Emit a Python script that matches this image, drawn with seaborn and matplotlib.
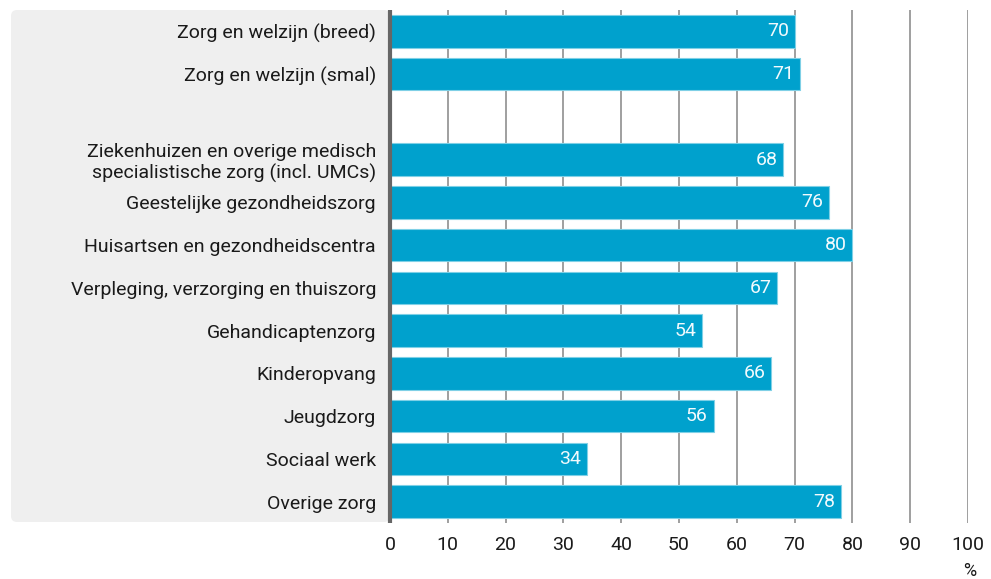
import matplotlib
matplotlib.use("Agg")
import matplotlib.pyplot as plt
from matplotlib.patches import FancyBboxPatch
import seaborn as sns
import pandas as pd

# data
CATEGORIES = [
    "Zorg en welzijn (breed)",
    "Zorg en welzijn (smal)",
    "Ziekenhuizen en overige medisch\nspecialistische zorg (incl. UMCs)",
    "Geestelijke gezondheidszorg",
    "Huisartsen en gezondheidscentra",
    "Verpleging, verzorging en thuiszorg",
    "Gehandicaptenzorg",
    "Kinderopvang",
    "Jeugdzorg",
    "Sociaal werk",
    "Overige zorg",
]
VALUES = [70, 71, 68, 76, 80, 67, 54, 66, 56, 34, 78]
# empty slot between the two totals and the sectors
ORDER = CATEGORIES[:2] + [" "] + CATEGORIES[2:]
X_TICKS = [0, 10, 20, 30, 40, 50, 60, 70, 80, 90, 100]

BAR_COLOR = "#00A1CD"
PANEL_COLOR = "#EFEFEF"
TEXT_COLOR = "#1a1a1a"
FS = 14

sns.set_style("white")
plt.rcParams["font.family"] = ["Roboto", "DejaVu Sans"]
plt.rcParams["font.size"] = FS

W, H, DPI = 991, 579, 100
fig = plt.figure(figsize=(W / DPI, H / DPI), dpi=DPI)

# grey label panel behind the category names
panel = FancyBboxPatch((11 / DPI, 57 / DPI), (390 - 11) / DPI, (569 - 57) / DPI,
                       boxstyle="round,pad=0,rounding_size=0.06",
                       transform=fig.dpi_scale_trans, facecolor=PANEL_COLOR,
                       edgecolor="none", zorder=-1)
fig.patches.append(panel)

ax = fig.add_axes([390 / W, 1 - 523 / H, (968 - 390) / W, (523 - 10) / H])
ax.patch.set_alpha(0)

df = pd.DataFrame({"sector": CATEGORIES, "pct": VALUES})
sns.barplot(data=df, y="sector", x="pct", order=ORDER, color=BAR_COLOR,
            saturation=1, width=0.76, edgecolor="#7fd0e6", linewidth=0.8,
            ax=ax, zorder=3)

ax.set_xlim(0, 100)
ax.set_ylim(len(ORDER) - 0.5, -0.5)
ax.set_xticks(X_TICKS)
ax.set_xlabel("")
ax.set_ylabel("")
ax.grid(True, axis="x", color="#8f8f8f", linewidth=1.2, zorder=0)
ax.grid(False, axis="y")
ax.set_axisbelow(True)
for s in ["top", "right", "bottom"]:
    ax.spines[s].set_visible(False)
ax.spines["left"].set_color("#666666")
ax.spines["left"].set_linewidth(3)
ax.spines["left"].set_zorder(5)
ax.spines["left"].set_capstyle("butt")
ax.tick_params(axis="y", length=0, pad=10, labelsize=FS, labelcolor=TEXT_COLOR)
ax.tick_params(axis="x", length=0, pad=9, labelsize=FS, labelcolor=TEXT_COLOR)

# value labels inside the bar ends
for cont in ax.containers:
    for rect in cont:
        v = rect.get_width()
        if v != v or v == 0:
            continue
        ax.text(v - 1.0, rect.get_y() + rect.get_height() / 2, f"{v:.0f}",
                ha="right", va="center", color="#f2fafd", fontsize=FS, zorder=6)

fig.text(976 / W, 1 - 571 / H, "%", ha="right", va="center",
         fontsize=FS - 1, color=TEXT_COLOR)

fig.savefig("out.png", dpi=DPI)
